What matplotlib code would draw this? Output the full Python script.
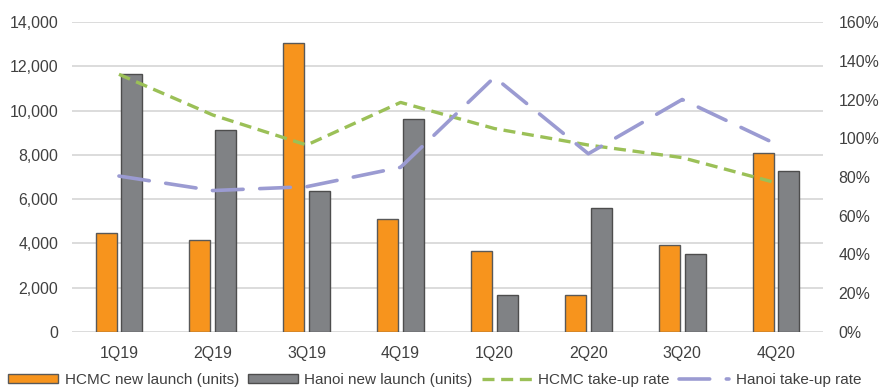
import matplotlib
matplotlib.use("Agg")
import matplotlib.pyplot as plt
import numpy as np
from matplotlib.ticker import FuncFormatter

categories = ["1Q19", "2Q19", "3Q19", "4Q19", "1Q20", "2Q20", "3Q20", "4Q20"]
hcmc_launch = [4450, 4150, 13050, 5100, 3650, 1670, 3950, 8080]
hanoi_launch = [11650, 9120, 6370, 9620, 1670, 5620, 3520, 7270]
hcmc_takeup = [133, 112, 96.5, 118.5, 105, 96.5, 90, 77]
hanoi_takeup = [80.5, 73, 75, 85, 131.5, 92, 120, 97]

plt.rcParams['font.family'] = ['Liberation Sans', 'DejaVu Sans']
text_color = '#404040'
fs = 11.4

fig = plt.figure(figsize=(8.83, 3.89), dpi=100)
ax = fig.add_axes([72/883, 1-332/389, (823-72)/883, (332-22)/389])
ax2 = ax.twinx()

x = np.arange(len(categories))
w = 0.224
off = 0.137
ax.bar(x - off, hcmc_launch, w, color='#F7941D', edgecolor='#595959', linewidth=1.0,
       label='HCMC new launch (units)', zorder=2)
ax.bar(x + off, hanoi_launch, w, color='#808285', edgecolor='#4d4d4d', linewidth=1.0,
       label='Hanoi new launch (units)', zorder=2)

ax.set_xlim(-0.5, len(categories) - 0.5)
ax.set_ylim(0, 14000)
ax.set_yticks(np.arange(0, 14001, 2000))
ax.yaxis.set_major_formatter(FuncFormatter(lambda v, p: f"{int(v):,}"))
ax.set_xticks(x)
ax.set_xticklabels(categories)
ax.grid(axis='y', color='#D9D9D9', linewidth=1.3, zorder=0)
ax.set_axisbelow(True)
for s in ax.spines.values():
    s.set_visible(False)
for s in ax2.spines.values():
    s.set_visible(False)
ax.tick_params(axis='both', length=0, labelsize=fs, colors=text_color)
ax.tick_params(axis='y', pad=10)
ax.tick_params(axis='x', pad=10)

l1, = ax2.plot(x, hcmc_takeup, color='#9BC057', linewidth=2.4, linestyle=(0, (3.6, 2.0)),
               label='HCMC take-up rate', zorder=3)
l2, = ax2.plot(x, hanoi_takeup, color='#9B9BD2', linewidth=2.6, linestyle=(0, (8.5, 4.6)),
               dash_capstyle='round', label='Hanoi take-up rate', zorder=3)
ax2.set_ylim(0, 160)
ax2.set_yticks(np.arange(0, 161, 20))
ax2.yaxis.set_major_formatter(FuncFormatter(lambda v, p: f"{int(v)}%"))
ax2.tick_params(axis='y', length=0, labelsize=fs, colors=text_color, pad=11)
ax.set_zorder(1)
ax2.set_zorder(2)
ax2.patch.set_visible(False)

h1, lab1 = ax.get_legend_handles_labels()
handles = h1 + [l1, l2]
labels = lab1 + [l1.get_label(), l2.get_label()]
fig.legend(handles, labels, loc='center left', bbox_to_anchor=(8/883, 1-380/389),
           ncol=4, frameon=False, fontsize=11.0, handlelength=3.3, handleheight=0.55,
           handletextpad=0.4, columnspacing=0.6, labelcolor=text_color, borderaxespad=0,
           borderpad=0)

fig.savefig('out.png', dpi=100)
